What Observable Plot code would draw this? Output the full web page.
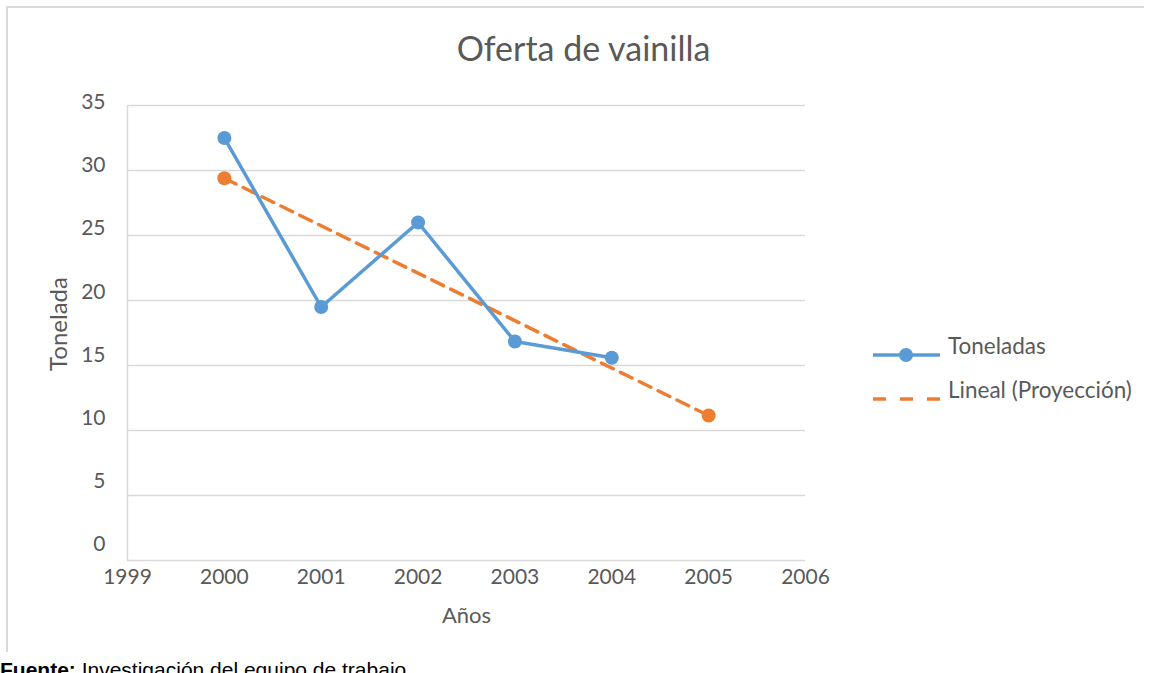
<!DOCTYPE html>
<html>
<head>
<meta charset="utf-8">
<script src="https://cdn.jsdelivr.net/npm/d3@7"></script>
<script src="https://cdn.jsdelivr.net/npm/@observablehq/plot@0.6"></script>
<style>
  html, body { margin: 0; padding: 0; background: #fff; }
  #wrap { position: relative; width: 1151px; height: 673px; overflow: hidden; font-family: Lato, "Open Sans", sans-serif; }
  #frame { position: absolute; left: 6px; top: 6px; width: 1138px; height: 646px; border-top: 2px solid #d9d9d9; border-left: 2px solid #d9d9d9; box-sizing: border-box; }
  #title { position: absolute; left: 0; width: 1167px; top: 27px; text-align: center; font-size: 34px; color: #595959; }
  .leg { position: absolute; left: 948px; font-size: 22.5px; color: #595959; white-space: nowrap; }
  #caption { position: absolute; left: 0; top: 658px; font-family: "Liberation Sans", Arial, sans-serif; font-size: 21px; color: #000; white-space: nowrap; }
  #chart { position: absolute; left: 0; top: 0; }
  #legsvg { position: absolute; left: 0; top: 0; }
</style>
</head>
<body>
<div id="wrap">
  <div id="frame"></div>
  <div id="chart"></div>
  <div id="title">Oferta de vainilla</div>
  <svg id="legsvg" width="1151" height="673"></svg>
  <div class="leg" id="leg1" style="top:332px;">Toneladas</div>
  <div class="leg" id="leg2" style="top:376px;">Lineal (Proyección)</div>
  <div id="caption"><b>Fuente:</b> Investigación del equipo de trabajo</div>
</div>
<script>
// Data
const years = [2000, 2001, 2002, 2003, 2004];
const toneladas = [32.5, 19.5, 26.0, 16.85, 15.6];
const trendYears = [2000, 2005];
const trendValues = [29.4, 11.15];
const xTicks = [1999, 2000, 2001, 2002, 2003, 2004, 2005, 2006];
const yTicks = [0, 5, 10, 15, 20, 25, 30, 35];
const seriesNames = ["Toneladas", "Lineal (Proyección)"];

const blue = "#5b9bd5";
const orange = "#ed7d31";
const grid = "#d9d9d9";
const textColor = "#595959";

const data = years.map((y, i) => ({year: y, value: toneladas[i]}));
const trend = trendYears.map((y, i) => ({year: y, value: trendValues[i]}));

// The reference's y tick labels sit slightly above their gridlines (more so near 0)
const yLabelShift = t => -16 + 0.37 * t;

const chart = Plot.plot({
  width: 1151,
  height: 673,
  marginLeft: 127,
  marginRight: 346,
  marginTop: 105,
  marginBottom: 113,
  style: {fontFamily: "Lato, 'Open Sans', sans-serif", fontSize: "21px", color: textColor, background: "transparent"},
  x: {domain: [1999, 2006]},
  y: {domain: [0, 35]},
  marks: [
    Plot.ruleY(yTicks.filter(d => d > 0), {stroke: grid, strokeWidth: 1.5}),
    Plot.ruleX([1999], {stroke: grid, strokeWidth: 1.5}),
    Plot.ruleY([0], {stroke: grid, strokeWidth: 1.5}),
    Plot.axisX(xTicks, {tickSize: 0, tickPadding: 9, tickFormat: d => String(d), fill: textColor,
      label: "Años", labelAnchor: "center", labelOffset: 62, labelArrow: "none"}),
    ...yTicks.map(t => Plot.axisY([t], {tickSize: 0, tickPadding: 22, dy: yLabelShift(t), fill: textColor, label: null})),
    Plot.axisY([], {label: "Tonelada", labelAnchor: "center", labelOffset: 78, labelArrow: "none", fill: textColor}),
    Plot.line(trend, {x: "year", y: "value", stroke: orange, strokeWidth: 3.5, strokeDasharray: "13,8"}),
    Plot.dot(trend, {x: "year", y: "value", fill: orange, r: 7}),
    Plot.line(data, {x: "year", y: "value", stroke: blue, strokeWidth: 3.5}),
    Plot.dot(data, {x: "year", y: "value", fill: blue, r: 7})
  ]
});
chart.querySelectorAll('[aria-label="x-axis label"] text').forEach(t => t.setAttribute("font-size", "22px"));
chart.querySelectorAll('[aria-label="y-axis label"] text').forEach(t => { t.setAttribute("font-size", "24px"); t.setAttribute("dx", "9"); });
document.getElementById("chart").appendChild(chart);

// Legend swatches
const leg = d3.select("#legsvg");
leg.append("line").attr("x1", 873).attr("x2", 940).attr("y1", 355).attr("y2", 355).attr("stroke", blue).attr("stroke-width", 3.5);
leg.append("circle").attr("cx", 906).attr("cy", 355).attr("r", 7).attr("fill", blue);
leg.append("line").attr("x1", 873).attr("x2", 940).attr("y1", 399).attr("y2", 399).attr("stroke", orange).attr("stroke-width", 3.5).attr("stroke-dasharray", "13,14");
</script>
</body>
</html>
